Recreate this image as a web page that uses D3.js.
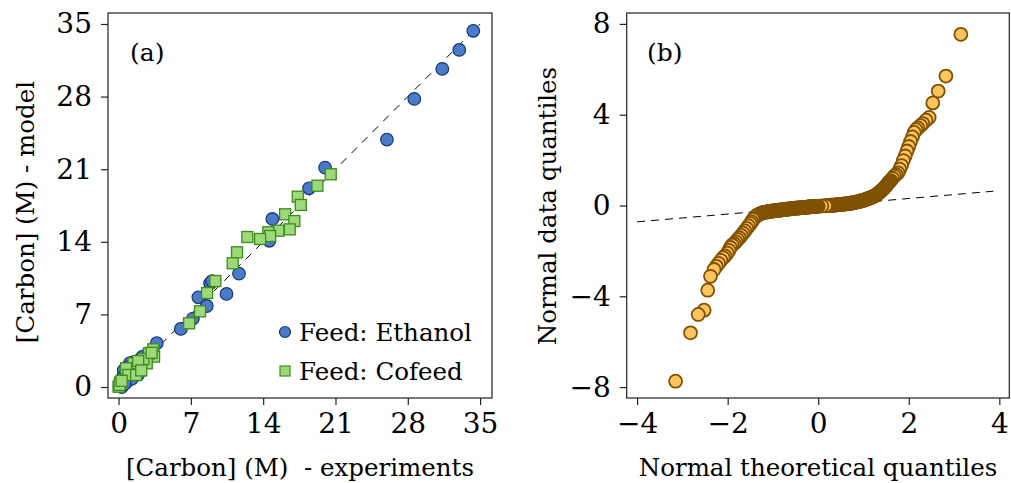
<!DOCTYPE html>
<head>
  <meta charset="utf-8">
  <style>
    body { margin: 0; background: #fff; }
    svg { display: block; font-family: "DejaVu Serif", serif; }
    .tick text { fill: #000; }
    .lbl { white-space: pre; }
  </style>
  <script src="https://cdn.jsdelivr.net/npm/d3@7"></script>
</head>
<body>
<svg id=chart width="1011" height="483"></svg>
<script>
// panel (a): model vs experiments
const ethanolX = [34.34, 32.98, 31.34, 28.63, 25.98, 19.99, 18.44, 14.89, 14.6, 11.66, 10.45, 8.86, 9.05, 7.73, 8.54, 7.2, 6.03, 3.7,
  2.6, 2.3, 2.0, 1.5, 1.1, 0.8, 0.5, 0.4, 0.2, 0.1, 0.9, 1.3, 1.6, 0.3, 0.6, 1.9]
const ethanolY = [34.34, 32.5, 30.67, 27.78, 23.86, 21.15, 19.16, 16.2, 14.1, 10.93, 8.97, 10.0, 10.2, 8.65, 7.81, 6.6, 5.6, 4.24,
  3.0, 2.9, 2.6, 2.4, 2.3, 1.9, 1.6, 0.9, 0.4, 0.1, 0.6, 0.8, 1.3, 0.0, 0.3, 1.2]
const cofeedX = [20.54, 19.25, 17.35, 17.64, 16.12, 17.02, 16.57, 15.47, 14.5, 14.67, 13.7, 12.47, 11.47, 11.05, 9.37, 8.57, 7.89, 6.83,
  3.37, 3.44, 2.95, 2.08, 2.73, 1.44, 0.73, 0.95, 1.7, 0.0, 0.15, 0.1, 2.4, 3.2, 1.9, 0.3, 2.2]
const cofeedY = [20.51, 19.41, 18.35, 17.55, 16.65, 16.0, 15.2, 15.07, 14.92, 14.56, 14.27, 14.46, 12.99, 11.93, 10.22, 9.06, 7.3, 6.14,
  3.63, 2.93, 3.25, 2.03, 2.28, 2.28, 1.8, 1.16, 1.16, 0.03, 0.42, 0.2, 2.7, 3.3, 2.5, 0.6, 1.6]
const ticksA = [0, 7, 14, 21, 28, 35]

// panel (b): normal Q-Q (lower tail, dense middle, upper tail)
const qqTheory = [-3.15, -2.82, -2.65, -2.52, -2.44, -2.38, -2.30, -2.25, -2.20, -2.15, -2.10, -2.06, -2.01, -1.97, -1.94, -1.90,
  -1.86, -1.82, -1.78, -1.74, -1.70, -1.66, -1.62, -1.58, -1.54, -1.50, -1.47,
  -1.44, -1.42, -1.40, -1.38, -1.36, -1.34, -1.32, -1.30, -1.28, -1.26, -1.24, -1.22, -1.20, -1.18, -1.16, -1.14, -1.12, -1.10,
  -1.08, -1.06, -1.04, -1.02, -1.00, -0.98, -0.96, -0.94, -0.92, -0.90, -0.88, -0.86, -0.84, -0.82, -0.80, -0.78, -0.76, -0.74,
  -0.72, -0.70, -0.68, -0.66, -0.64, -0.62, -0.60, -0.58, -0.56, -0.54, -0.52, -0.50, -0.48, -0.46, -0.44, -0.42, -0.40, -0.38,
  -0.36, -0.34, -0.32, -0.30, -0.28, -0.26, -0.24, -0.22, -0.20, -0.18, -0.16, -0.14, -0.12, -0.10, -0.08, -0.06, -0.04, -0.02,
  0.00, 0.08, 0.16, 0.18, 0.20, 0.22, 0.24, 0.26, 0.28, 0.30, 0.32, 0.34, 0.36, 0.38, 0.40, 0.42, 0.44, 0.46, 0.48, 0.50,
  0.52, 0.54, 0.56, 0.58, 0.60, 0.62, 0.64, 0.66, 0.68, 0.70, 0.72, 0.74, 0.76, 0.78, 0.80, 0.82, 0.84, 0.86, 0.88, 0.90,
  0.92, 0.94, 0.96, 0.98, 1.00, 1.02, 1.04, 1.06, 1.08, 1.10, 1.12, 1.14, 1.16, 1.18, 1.20, 1.22, 1.24, 1.26, 1.28, 1.30,
  1.32, 1.34, 1.36, 1.38, 1.40, 1.42, 1.44, 1.46, 1.48, 1.50, 1.52, 1.54, 1.56, 1.58, 1.60,
  1.64, 1.68, 1.72, 1.76, 1.80, 1.84, 1.88, 1.92, 1.96, 2.00, 2.04, 2.08, 2.12, 2.16, 2.20, 2.26, 2.31, 2.38, 2.45,
  2.53, 2.65, 2.82, 3.15]
const qqSample = [-7.74, -5.61, -4.80, -4.61, -3.73, -3.12, -2.82, -2.68, -2.55, -2.42, -2.30, -2.22, -2.10, -1.98, -1.85, -1.74,
  -1.68, -1.60, -1.50, -1.42, -1.32, -1.22, -1.12, -1.01, -0.90, -0.80, -0.72,
  -0.62, -0.57, -0.52, -0.48, -0.45, -0.42, -0.40, -0.38, -0.36, -0.345, -0.33, -0.32, -0.31, -0.30, -0.29, -0.285, -0.28, -0.275,
  -0.27, -0.26, -0.25, -0.245, -0.24, -0.235, -0.23, -0.225, -0.22, -0.215, -0.21, -0.205, -0.20, -0.195, -0.19, -0.185, -0.18, -0.175,
  -0.17, -0.165, -0.16, -0.155, -0.15, -0.145, -0.14, -0.135, -0.13, -0.125, -0.12, -0.118, -0.115, -0.112, -0.11, -0.105, -0.10, -0.095,
  -0.09, -0.088, -0.085, -0.082, -0.08, -0.075, -0.07, -0.065, -0.06, -0.058, -0.055, -0.052, -0.05, -0.048, -0.045, -0.042, -0.04, -0.035,
  -0.03, -0.02, -0.01, -0.008, -0.005, -0.002, 0.00, 0.005, 0.01, 0.012, 0.015, 0.018, 0.02, 0.025, 0.03, 0.032, 0.035, 0.038, 0.04, 0.045,
  0.05, 0.055, 0.06, 0.065, 0.07, 0.075, 0.08, 0.085, 0.09, 0.095, 0.10, 0.11, 0.12, 0.125, 0.13, 0.14, 0.15, 0.16, 0.17, 0.18,
  0.19, 0.20, 0.21, 0.22, 0.23, 0.245, 0.26, 0.275, 0.29, 0.305, 0.32, 0.335, 0.35, 0.365, 0.38, 0.40, 0.42, 0.445, 0.47, 0.50,
  0.53, 0.565, 0.60, 0.63, 0.66, 0.70, 0.74, 0.78, 0.82, 0.87, 0.92, 0.97, 1.02, 1.06, 1.10,
  1.20, 1.30, 1.36, 1.44, 1.60, 1.76, 1.98, 2.18, 2.40, 2.60, 2.82, 3.02, 3.22, 3.34, 3.42, 3.52, 3.61, 3.76, 3.88,
  4.52, 5.04, 5.70, 7.54]
const qqLine = [[-4, -0.72], [3.87, 0.63]]
const ticksBx = [-4, -2, 0, 2, 4]
const ticksBy = [-8, -4, 0, 4, 8]

const svg = d3.select('#chart')

const frame = (x, y) => {
  svg.append('rect')
    .attr('x', x.range()[0]).attr('y', y.range()[1])
    .attr('width', x.range()[1] - x.range()[0])
    .attr('height', y.range()[0] - y.range()[1])
    .attr('fill', 'none').attr('stroke', '#222').attr('stroke-width', 1.2)
}

const axes = (x, y, xt, yt) => {
  const gx = svg.append('g').attr('transform', `translate(0,${y.range()[0]})`)
    .call(d3.axisBottom(x).tickValues(xt).tickSize(7).tickPadding(8).tickFormat(d3.format('d')))
  const gy = svg.append('g').attr('transform', `translate(${x.range()[0]},0)`)
    .call(d3.axisLeft(y).tickValues(yt).tickSize(7).tickPadding(9).tickFormat(d3.format('d')))
  for (const g of [gx, gy]) {
    g.select('.domain').remove()
    g.selectAll('.tick line').attr('stroke', '#222').attr('stroke-width', 1.2)
    g.selectAll('.tick text').attr('font-size', 28).attr('font-family', 'DejaVu Serif')
  }
}

const label = (txt, x, y, rot, size) => {
  svg.append('text').attr('class', 'lbl')
    .attr('transform', `translate(${x},${y})` + (rot ? ' rotate(-90)' : ''))
    .attr('text-anchor', 'middle').attr('font-size', size).text(txt)
}

// ---- panel (a)
const xA = d3.scaleLinear().domain([-1.02, 36.15]).range([108, 492])
const yA = d3.scaleLinear().domain([-1.06, 36.06]).range([398, 13])

svg.append('line')
  .attr('x1', xA(0)).attr('y1', yA(0)).attr('x2', xA(35)).attr('y2', yA(35))
  .attr('stroke', '#000').attr('stroke-width', 1).attr('stroke-dasharray', '8,7')

const eth = ethanolX.map((v, i) => [v, ethanolY[i]])
const cof = cofeedX.map((v, i) => [v, cofeedY[i]])

svg.append('g').selectAll('circle').data(eth).join('circle')
  .attr('cx', d => xA(d[0])).attr('cy', d => yA(d[1])).attr('r', 6.3)
  .attr('fill', '#4a7bc8').attr('stroke', '#1c3570').attr('stroke-width', 1.2)

const sq = 11
svg.append('g').selectAll('rect').data(cof).join('rect')
  .attr('x', d => xA(d[0]) - sq / 2).attr('y', d => yA(d[1]) - sq / 2)
  .attr('width', sq).attr('height', sq)
  .attr('fill', '#9dd978').attr('stroke', '#3c8a1f').attr('stroke-width', 1.3)

frame(xA, yA)
axes(xA, yA, ticksA, ticksA)

svg.append('text').attr('x', 130).attr('y', 61).attr('font-size', 25).text('(a)')

// legend
svg.append('circle').attr('cx', 285).attr('cy', 332).attr('r', 5.5)
  .attr('fill', '#4a7bc8').attr('stroke', '#1c3570').attr('stroke-width', 1.2)
svg.append('rect').attr('x', 280).attr('y', 366).attr('width', 10).attr('height', 10)
  .attr('fill', '#9dd978').attr('stroke', '#3c8a1f').attr('stroke-width', 1.2)
svg.append('text').attr('x', 299).attr('y', 341).attr('font-size', 24.5).text('Feed: Ethanol')
svg.append('text').attr('x', 299).attr('y', 380).attr('font-size', 24.5).text('Feed: Cofeed')

label('[Carbon] (M)  - experiments', 300, 476, false, 24.5)
label('[Carbon] (M) - model', 34, 212, true, 24.5)

// ---- panel (b)
const xB = d3.scaleLinear().domain([-4.23, 4.22]).range([626.7, 1009.3])
const yB = d3.scaleLinear().domain([-8.48, 8.48]).range([398, 13])

svg.append('line')
  .attr('x1', xB(qqLine[0][0])).attr('y1', yB(qqLine[0][1]))
  .attr('x2', xB(qqLine[1][0])).attr('y2', yB(qqLine[1][1]))
  .attr('stroke', '#000').attr('stroke-width', 1).attr('stroke-dasharray', '8,6')

// drawn right to left, so each point sits over its right-hand neighbour
const qq = qqTheory.map((v, i) => [v, qqSample[i]]).reverse()
svg.append('g').selectAll('circle').data(qq).join('circle')
  .attr('cx', d => xB(d[0])).attr('cy', d => yB(d[1])).attr('r', 6.5)
  .attr('fill', '#ffc35f').attr('stroke', '#805200').attr('stroke-width', 1.8)

frame(xB, yB)
axes(xB, yB, ticksBx, ticksBy)

svg.append('text').attr('x', 647).attr('y', 61).attr('font-size', 25).text('(b)')

label('Normal theoretical quantiles', 818, 476, false, 24.5)
label('Normal data quantiles', 556, 206, true, 24.5)
</script>
</body>
